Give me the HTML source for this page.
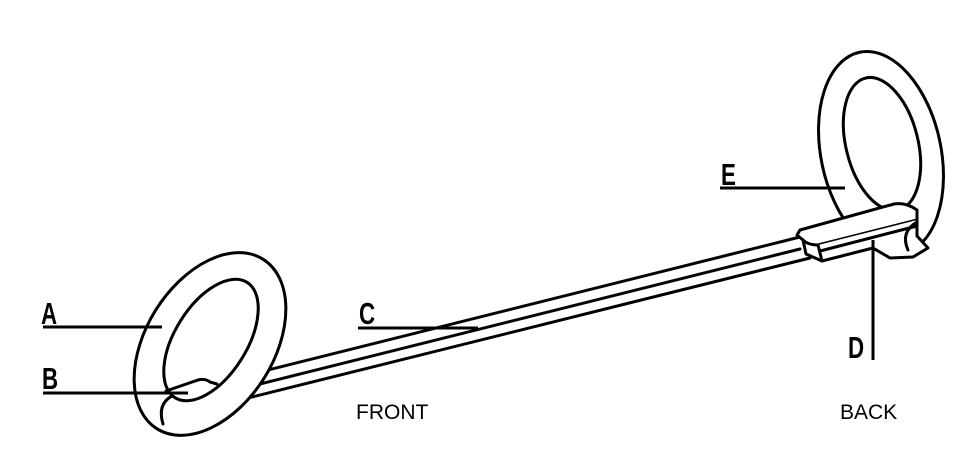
<!DOCTYPE html>
<html><head><style>
html,body{margin:0;padding:0;background:#fff;width:976px;height:452px;overflow:hidden}
svg{display:block}
.l{font-family:"Liberation Sans",sans-serif;font-weight:bold;font-size:31px}
.t{font-family:"Liberation Sans",sans-serif;font-size:21px}
</style></head><body>
<svg width="976" height="452" viewBox="0 0 976 452" xmlns="http://www.w3.org/2000/svg">
<g fill="none" stroke="#000" stroke-width="3" stroke-linecap="round" stroke-linejoin="round">
<line x1="240" y1="377" x2="800" y2="237"/>
<line x1="240" y1="389" x2="800" y2="249"/>
<line x1="240" y1="400" x2="810" y2="258"/>
<ellipse cx="210" cy="344" rx="100" ry="64" transform="rotate(-58 210 344)" fill="#fff"/>
<ellipse cx="211" cy="340" rx="68" ry="36" transform="rotate(-58 211 340)" fill="#fff"/>
<path d="M166 391 L198 380 Q205 378 210 382 L217 384" />
<path d="M172 396 Q157 404 163 424"/>
<ellipse cx="881" cy="153" rx="60" ry="103" transform="rotate(-12 881 153)" fill="#fff"/>
<ellipse cx="882" cy="144" rx="36" ry="68" transform="rotate(-14 882 144)" fill="#fff"/>
<path d="M800 230 L894 204 Q906 202 917 210 L917 220 L818 245 Q808 245 803 240 L797 235 Z" fill="#fff"/>
<path d="M818 245 L822 261 L873 248 L890 258 L913 257 L928 248 L917 236 L917 220" fill="#fff"/>
<path d="M803 240 L806 254 L822 261"/>
<path d="M820 251 L917 226"/>
<path d="M917 222 Q900 232 908 250"/>
</g>
<g stroke="#000" stroke-width="3">
<line x1="43" y1="327" x2="162" y2="327"/>
<line x1="43" y1="393" x2="188" y2="393"/>
<line x1="358" y1="328" x2="478" y2="328"/>
<line x1="720" y1="188" x2="845" y2="188"/>
<line x1="873" y1="240" x2="873" y2="360"/>
</g>
<g class="l">
<text transform="translate(41 324) scale(0.72 1)">A</text>
<text transform="translate(42 389) scale(0.72 1)">B</text>
<text transform="translate(359 324) scale(0.72 1)">C</text>
<text transform="translate(721 185) scale(0.72 1)">E</text>
<text transform="translate(848 358) scale(0.72 1)">D</text>
</g>
<text class="t" x="356" y="419">FRONT</text>
<text class="t" x="840" y="419">BACK</text>
</svg>
</body></html>
